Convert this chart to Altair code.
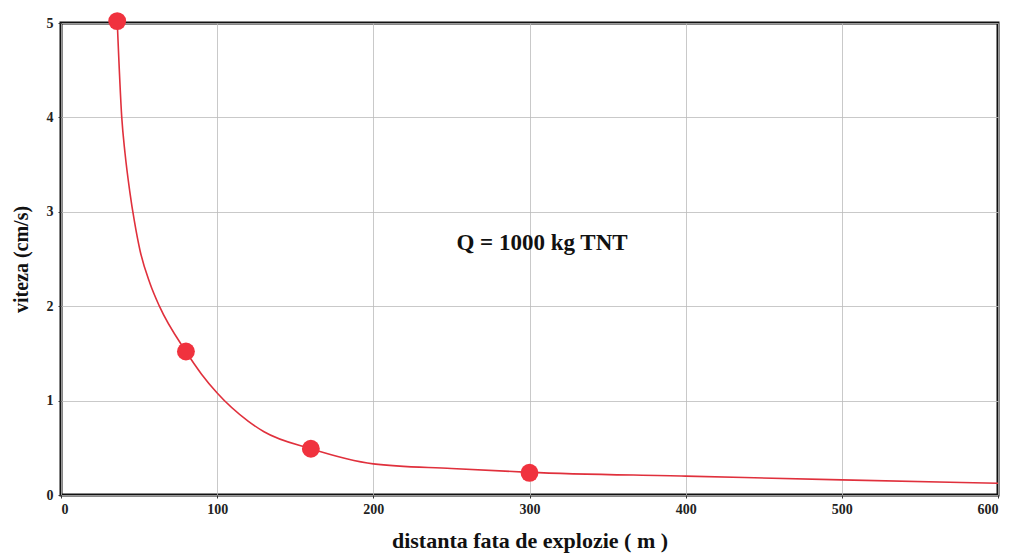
import altair as alt
import pandas as pd

# measured points
pt_x = [36, 80, 160, 300]
pt_y = [5.02, 1.52, 0.49, 0.235]

# fitted curve
curve_x = [36, 38.9, 41, 44, 47, 50.6, 57, 63, 80, 90, 100, 120, 130, 160, 200, 250, 300, 400, 500, 600]
curve_y = [5.02, 4.0, 3.62, 3.22, 2.9, 2.59, 2.24, 2.0, 1.52, 1.28, 1.08, 0.78, 0.67, 0.49, 0.33, 0.28, 0.24, 0.20, 0.16, 0.125]

x_ticks = [0, 100, 200, 300, 400, 500, 600]
y_ticks = [0, 1, 2, 3, 4, 5]

label_text = ["Q = 1000 kg TNT"]
label_x = [308]
label_y = [2.67]

pts = pd.DataFrame({"x": pt_x, "y": pt_y})
cur = pd.DataFrame({"x": curve_x, "y": curve_y})
lab = pd.DataFrame({"t": label_text, "x": label_x, "y": label_y})

FONT = "Liberation Serif"

xs = alt.Scale(domain=[0, 600], nice=False)
ys = alt.Scale(domain=[0, 5], nice=False)

xax = alt.Axis(values=x_ticks, format="d", title="distanta fata de explozie  ( m )", grid=True,
               labelFont=FONT, labelFontWeight="bold", labelFontSize=14, labelColor="#222",
               titleFont=FONT, titleFontWeight="bold", titleFontSize=22, titleColor="#111",
               titlePadding=14, tickSize=3, tickColor="#333", domain=False, labelPadding=4,
               gridColor="#bbbbbb", gridWidth=0.8)
yax = alt.Axis(values=y_ticks, format="d", title="viteza (cm/s)", grid=True,
               labelFont=FONT, labelFontWeight="bold", labelFontSize=14, labelColor="#222",
               titleFont=FONT, titleFontWeight="bold", titleFontSize=20, titleColor="#111",
               titlePadding=15, tickSize=3, tickColor="#333", domain=False, labelPadding=5,
               gridColor="#bbbbbb", gridWidth=0.8)

line = alt.Chart(cur).mark_line(color="#e0303c", strokeWidth=1.6, interpolate="monotone").encode(
    x=alt.X("x:Q", scale=xs, axis=xax),
    y=alt.Y("y:Q", scale=ys, axis=yax),
)
dots = alt.Chart(pts).mark_circle(color="#f0323e", opacity=1, size=320).encode(
    x=alt.X("x:Q", scale=xs),
    y=alt.Y("y:Q", scale=ys),
)
txt = alt.Chart(lab).mark_text(font=FONT, fontWeight="bold", fontSize=23, color="#111").encode(
    x=alt.X("x:Q", scale=xs),
    y=alt.Y("y:Q", scale=ys),
    text="t:N",
)

chart = (line + dots + txt).properties(
    width=937, height=472,
    background="white",
    autosize=alt.AutoSizeParams(type="none"),
    padding={"left": 53, "top": 15, "right": 5, "bottom": 60},
).configure_view(stroke="#111", strokeWidth=3)

chart.save("out.html", embed_options={"renderer": "svg", "actions": False})
